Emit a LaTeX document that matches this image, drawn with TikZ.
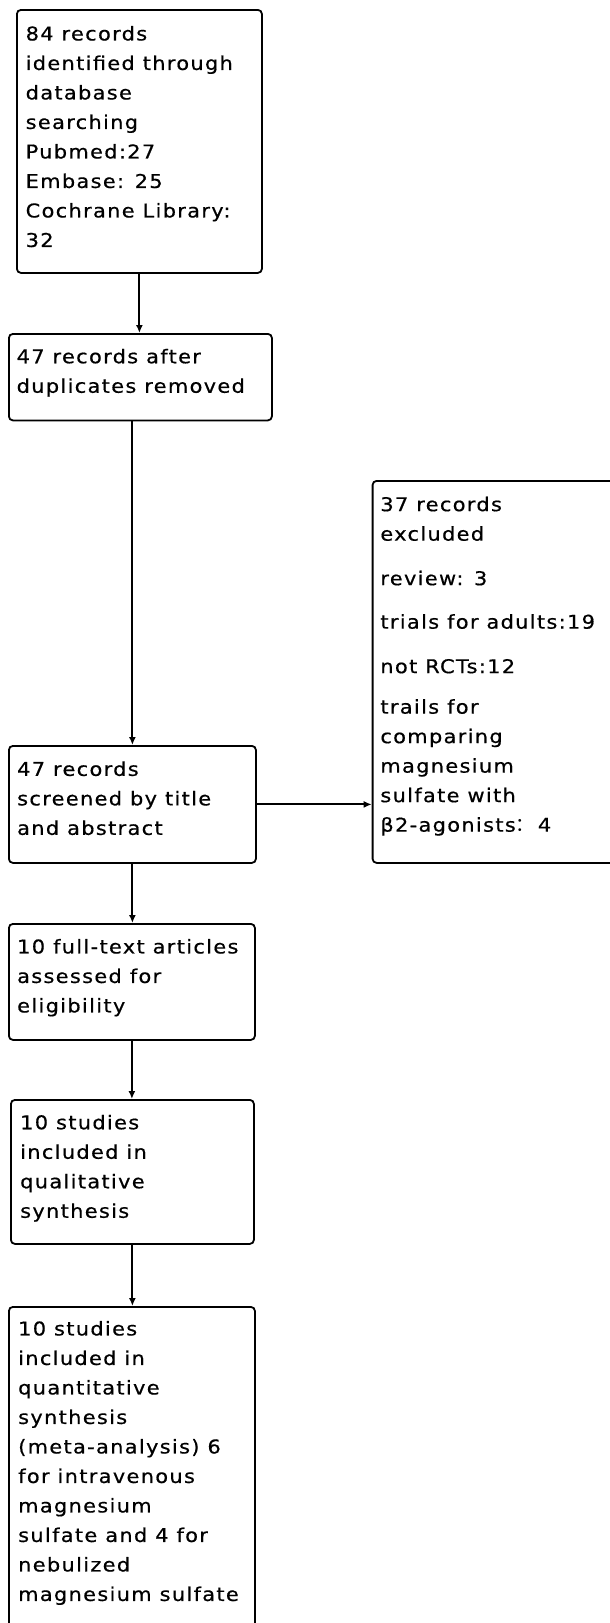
\documentclass[tikz,border=0pt]{standalone}
\usepackage{fontspec}
\setmainfont[LetterSpace=7,FakeStretch=1.1,FakeBold=0.6]{DejaVu Sans}
\newfontfamily\cjkfont{Noto Sans CJK SC}
\usetikzlibrary{arrows.meta,positioning}
\begin{document}
\begin{tikzpicture}[x=1pt,y=-1pt,
  boxst/.style={draw, line width=1.8pt, rounded corners=4pt, inner sep=0pt, anchor=north west},
  txt/.style={inner sep=0pt, align=left, font=\fontsize{19}{29.5}\selectfont},
  arr/.style={line width=1.9pt, -{Latex[length=8pt,width=7pt]}}]
\useasboundingbox (0,0) rectangle (610,1623);
\clip (0,0) rectangle (610,1623);
% boxes
\node[boxst, minimum width=245pt, minimum height=263pt] (b1) at (16,9) {};
\node[boxst, minimum width=263pt, minimum height=86.5pt] (b2) at (8,333) {};
\node[boxst, minimum width=247pt, minimum height=117pt] (b3) at (8,745) {};
\node[boxst, minimum width=246pt, minimum height=116pt] (b4) at (8,923) {};
\node[boxst, minimum width=243pt, minimum height=144pt] (b5) at (10,1099) {};
\node[boxst, minimum width=246pt, minimum height=340pt] (b6) at (8,1306) {};
\node[boxst, minimum width=260pt, minimum height=382pt] (bx) at (371.7,480) {};
% texts
\node[txt, below right=10.6pt and 9.5pt of b1.north west] (t1) {\strut 84 records\\identified through\\database\\searching\\Pubmed:27\\Embase: 25\\Cochrane Library:\\32};
\node[txt, below right=9.4pt and 8.5pt of b2.north west] (t2) {\strut 47 records after\\duplicates removed};
\node[txt, below right=10pt and 9pt of b3.north west] (t3) {\strut 47 records\\screened by title\\and abstract};
\node[txt, below right=9.6pt and 9pt of b4.north west] (t4) {\strut 10 full-text articles\\assessed for\\eligibility};
\node[txt, below right=9.4pt and 10pt of b5.north west] (t5) {\strut 10 studies\\included in\\qualitative\\synthesis};
\node[txt, below right=8.6pt and 10pt of b6.north west] (t6) {\strut 10 studies\\included in\\quantitative\\synthesis\\(meta-analysis) 6\\for intravenous\\magnesium\\sulfate and 4 for\\nebulized\\magnesium sulfate};
\node[txt, below right=10.3pt and 8.5pt of bx.north west] (tx) {\strut 37 records\\excluded\\[15pt]review: 3\\[14pt]trials for adults:19\\[15pt]not RCTs:12\\[11pt]trails for\\comparing\\magnesium\\sulfate with\\β2-agonists{\cjkfont ：}\,4};
% connectors
\draw[arr] (b1.south) -- (b1.south |- b2.north);
\draw[arr] (b3.north |- b2.south) -- (b3.north);
\draw[arr] (b3.south) -- (b3.south |- b4.north);
\draw[arr] (b4.south) -- (b4.south |- b5.north);
\draw[arr] (b5.south) -- (b5.south |- b6.north);
\draw[arr] (b3.east) -- (b3.east -| bx.west);
\end{tikzpicture}
\end{document}
